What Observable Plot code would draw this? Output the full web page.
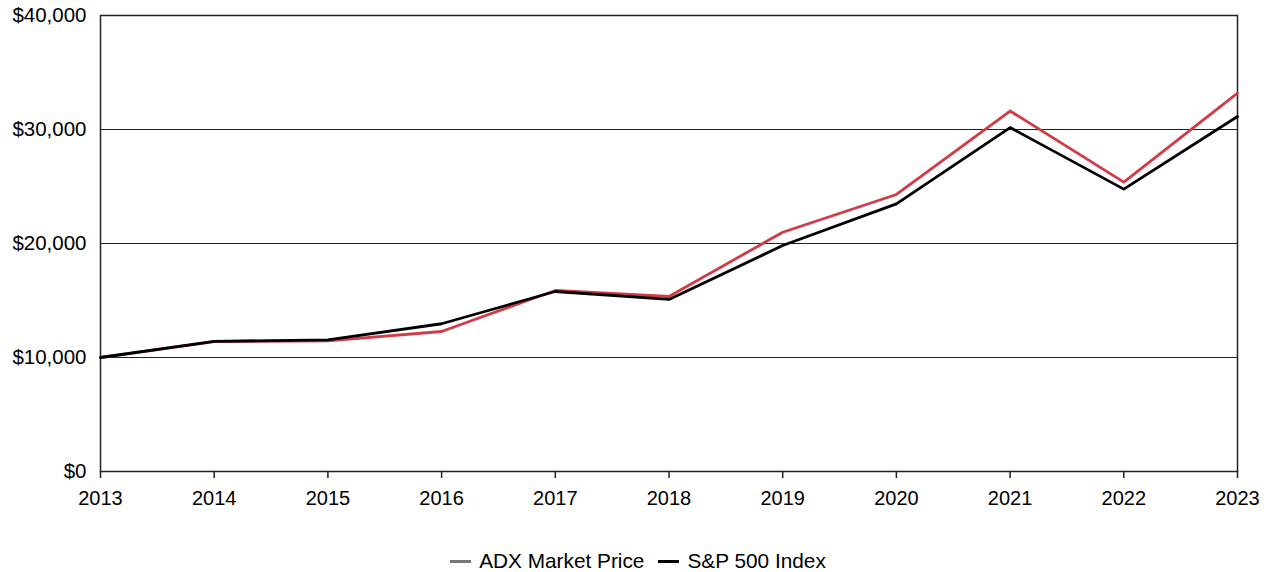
<!DOCTYPE html>
<html>
<head>
<meta charset="utf-8">
<script src="https://cdn.jsdelivr.net/npm/d3@7"></script>
<script src="https://cdn.jsdelivr.net/npm/@observablehq/plot@0.6"></script>
<style>
  html, body { margin: 0; padding: 0; background: #fff; }
  body { width: 1272px; height: 572px; font-family: "Liberation Sans", Arial, sans-serif; }
  #legend { display: flex; justify-content: center; align-items: center; gap: 14px; margin-top: 29px; height: 24px; font-size: 20.8px; color: #000; padding-left: 4px; }
  .item { display: flex; align-items: center; gap: 8px; }
  .sw { width: 21px; height: 3px; display: inline-block; }
</style>
</head>
<body>
<div id="chart"></div>
<div id="legend"></div>
<script>
const years = [2013, 2014, 2015, 2016, 2017, 2018, 2019, 2020, 2021, 2022, 2023];
const adxMarketPrice = [10000, 11400, 11450, 12280, 15880, 15350, 20990, 24300, 31620, 25380, 33190];
const sp500Index = [10000, 11420, 11550, 12960, 15790, 15090, 19820, 23480, 30170, 24770, 31140];
const yTicks = [0, 10000, 20000, 30000, 40000];
const gridTicks = [10000, 20000, 30000];
const seriesNames = ["ADX Market Price", "S&P 500 Index"];
const lineColors = ["#d23a46", "#000000"];
const legendColors = ["#777777", "#000000"];

const adx = years.map((y, i) => ({year: y, value: adxMarketPrice[i]}));
const sp = years.map((y, i) => ({year: y, value: sp500Index[i]}));

const chart = Plot.plot({
  width: 1272,
  height: 520,
  marginLeft: 100,
  marginRight: 35,
  marginTop: 15,
  marginBottom: 49,
  style: {fontFamily: "Liberation Sans, Arial, sans-serif", fontSize: "20px", color: "#000", background: "#fff"},
  x: {domain: [2013, 2023], ticks: years, tickFormat: "d", label: null},
  y: {domain: [0, 40000], ticks: yTicks, tickFormat: d3.format("$,"), label: null},
  marks: [
    Plot.ruleY(gridTicks, {stroke: "#222", strokeWidth: 1}),
    Plot.frame({stroke: "#222", strokeWidth: 1.5}),
    Plot.axisX({ticks: years, tickFormat: "d", tickSize: 7, tickPadding: 12, label: null, stroke: "#222", strokeWidth: 1.5}),
    Plot.axisY({ticks: yTicks, tickFormat: d3.format("$,"), tickSize: 0, tickPadding: 14, label: null, fontSize: 20.5}),
    Plot.lineY(adx, {x: "year", y: "value", stroke: lineColors[0], strokeWidth: 2.8}),
    Plot.lineY(sp, {x: "year", y: "value", stroke: lineColors[1], strokeWidth: 2.8})
  ]
});
document.getElementById("chart").appendChild(chart);

const legend = document.getElementById("legend");
seriesNames.forEach((name, i) => {
  const it = document.createElement("div");
  it.className = "item";
  const sw = document.createElement("span");
  sw.className = "sw";
  sw.style.background = legendColors[i];
  const tx = document.createElement("span");
  tx.textContent = name;
  it.appendChild(sw);
  it.appendChild(tx);
  legend.appendChild(it);
});
</script>
</body>
</html>
